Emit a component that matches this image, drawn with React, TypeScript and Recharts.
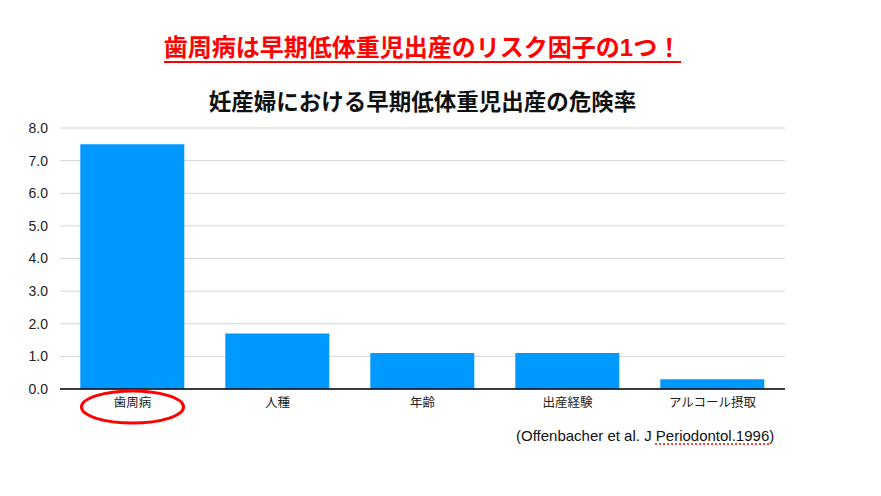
import React from "react";
import { BarChart, Bar, XAxis, YAxis, CartesianGrid } from "recharts";

const categories = ["歯周病", "人種", "年齢", "出産経験", "アルコール摂取"];
const riskValues = [7.5, 1.7, 1.1, 1.1, 0.3];
const yTicks = [0, 1, 2, 3, 4, 5, 6, 7, 8];

const headline = "歯周病は早期低体重児出産のリスク因子の1つ！";
const chartTitle = "妊産婦における早期低体重児出産の危険率";
const citeHead = "(Offenbacher et al. J ";
const citeTail = "Periodontol.1996";

const FONT = '"Liberation Sans", "Noto Sans CJK JP", sans-serif';

const data = categories.map((name, i) => ({ name, value: riskValues[i] }));

// x tick label; the first one (歯周病) gets a red ellipse round it
const CategoryTick = (props: any) => {
  const { x, y, payload, index } = props;
  return (
    <g>
      <text x={x} y={y} dy={14} textAnchor="middle" fontSize={12.5} fill="#222" fontFamily={FONT}>
        {payload.value}
      </text>
      {index === 0 && (
        <ellipse cx={x} cy={y + 14} rx={51} ry={16} fill="none" stroke="#ff0000" strokeWidth={3} />
      )}
    </g>
  );
};

export default function App() {
  return (
    <div style={{ position: "absolute", top: 0, left: 0, width: 881, height: 496, background: "#fff", fontFamily: FONT }}>
      <div
        style={{
          position: "absolute",
          top: 34,
          left: 0,
          width: 845,
          textAlign: "center",
          fontSize: 24,
          fontWeight: "bold",
          color: "#ff0000",
          lineHeight: "28px",
        }}
      >
        <span style={{ borderBottom: "2px solid #ff0000", paddingBottom: 0 }}>{headline}</span>
      </div>
      <div
        style={{
          position: "absolute",
          top: 89,
          left: 0,
          width: 845,
          textAlign: "center",
          fontSize: 22.5,
          fontWeight: "bold",
          color: "#111",
          lineHeight: "28px",
        }}
      >
        {chartTitle}
      </div>
      <BarChart
        width={881}
        height={496}
        data={data}
        margin={{ top: 128, right: 96, bottom: 77, left: 0 }}
        barCategoryGap="14%"
      >
        <CartesianGrid vertical={false} stroke="#d4d4d4" />
        <YAxis
          width={60}
          domain={[0, 8]}
          ticks={yTicks}
          interval={0}
          tickFormatter={(v: number) => v.toFixed(1)}
          axisLine={false}
          tickLine={false}
          tickSize={0}
          tickMargin={12}
          tick={{ fontSize: 14, fill: "#222", fontFamily: FONT }}
        />
        <XAxis
          dataKey="name"
          height={30}
          interval={0}
          axisLine={{ stroke: "#000", strokeWidth: 1.5 }}
          tickLine={false}
          tickSize={0}
          tickMargin={4}
          tick={<CategoryTick />}
        />
        <Bar dataKey="value" fill="#0099ff" isAnimationActive={false} />
      </BarChart>
      <div
        style={{
          position: "absolute",
          top: 427,
          left: 516,
          fontSize: 15,
          color: "#111",
          whiteSpace: "nowrap",
          lineHeight: "18px",
        }}
      >
        {citeHead}
        <span style={{ textDecoration: "underline dotted #ff0000", textUnderlineOffset: 3 }}>{citeTail}</span>)
      </div>
    </div>
  );
}
